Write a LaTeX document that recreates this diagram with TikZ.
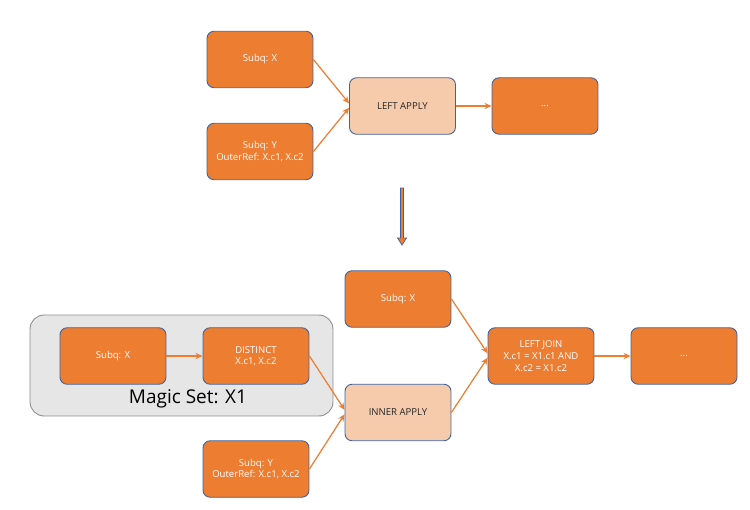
\documentclass[tikz,border=0pt]{standalone}
\usepackage{fontspec}
\setmainfont{Open Sans}
\usetikzlibrary{positioning, arrows.meta}
\definecolor{opOrange}{HTML}{ED7D31}
\definecolor{opPeach}{HTML}{F6CBAC}
\definecolor{opBorder}{HTML}{41629A}
\definecolor{magicGrey}{HTML}{E6E6E6}
\definecolor{magicEdge}{HTML}{8C8C8C}

\begin{document}
\begin{tikzpicture}[x=0.02cm, y=-0.02cm,
    opbox/.style={draw=opBorder, fill=opOrange, text=white, rounded corners=4pt,
      minimum width=2.12cm, minimum height=1.13cm, align=center, line width=0.5pt,
      font=\fontsize{5.45}{6.6}\selectfont},
    applybox/.style={opbox, fill=opPeach, text=black!85},
    flow/.style={draw=opOrange, line width=0.7pt, -{Stealth[length=4pt, width=3.5pt]}}]
    \useasboundingbox (0,0) rectangle (750,510);

    % avant : apply sur la sous-requete correlee
    \node[opbox] (subqX) at (260,59.5) {Subq: X};
    \node[opbox] (subqY) at (260,151.5) {Subq: Y\\OuterRef: X.c1, X.c2};
    \node[applybox] (leftApply) at (402.5,106) {LEFT APPLY};
    \node[opbox] (topRest) at (545,106) {...};

    \draw[flow] (subqX.east) -- ([yshift=1.5pt]leftApply.west);
    \draw[flow] (subqY.east) -- ([yshift=-1pt]leftApply.west);
    \draw[flow] (leftApply) -- (topRest);

    % fleche de transformation
    \draw[fill=opOrange, draw=opBorder, line width=0.4pt]
      (400.5,188) -- (403.5,188) -- (403.5,238) -- (406.5,238) -- (402,245)
      -- (397.5,238) -- (400.5,238) -- cycle;

    % apres : magic set
    \node[draw=magicEdge, fill=magicGrey, rounded corners=8pt, minimum width=6.06cm,
      minimum height=2.02cm, line width=0.5pt] (magicSet) at (181.5,365.5) {};
    \node[font=\fontsize{10.8}{12}\selectfont] (magicLabel) at (188,399) {Magic Set: X1};
    \node[opbox] (magicSubq) at (113,356) {Subq: X};
    \node[opbox] (distinct) at (256,356) {DISTINCT\\X.c1, X.c2};
    \node[opbox] (subqYb) at (256,469) {Subq: Y\\OuterRef: X.c1, X.c2};
    \node[applybox] (innerApply) at (398,412.5) {INNER APPLY};
    \node[opbox] (subqXb) at (398,299) {Subq: X};
    \node[opbox] (leftJoin) at (541,356) {LEFT JOIN\\X.c1 = X1.c1 AND\\X.c2 = X1.c2};
    \node[opbox] (botRest) at (684,356) {...};

    \draw[flow] (magicSubq) -- (distinct);
    \draw[flow] (distinct.east) -- ([yshift=1.5pt]innerApply.west);
    \draw[flow] (subqYb.east) -- ([yshift=-1pt]innerApply.west);
    \draw[flow] (subqXb.east) -- ([yshift=1.5pt]leftJoin.west);
    \draw[flow] (innerApply.east) -- ([yshift=-1pt]leftJoin.west);
    \draw[flow] (leftJoin) -- (botRest);
  \end{tikzpicture}
\end{document}
